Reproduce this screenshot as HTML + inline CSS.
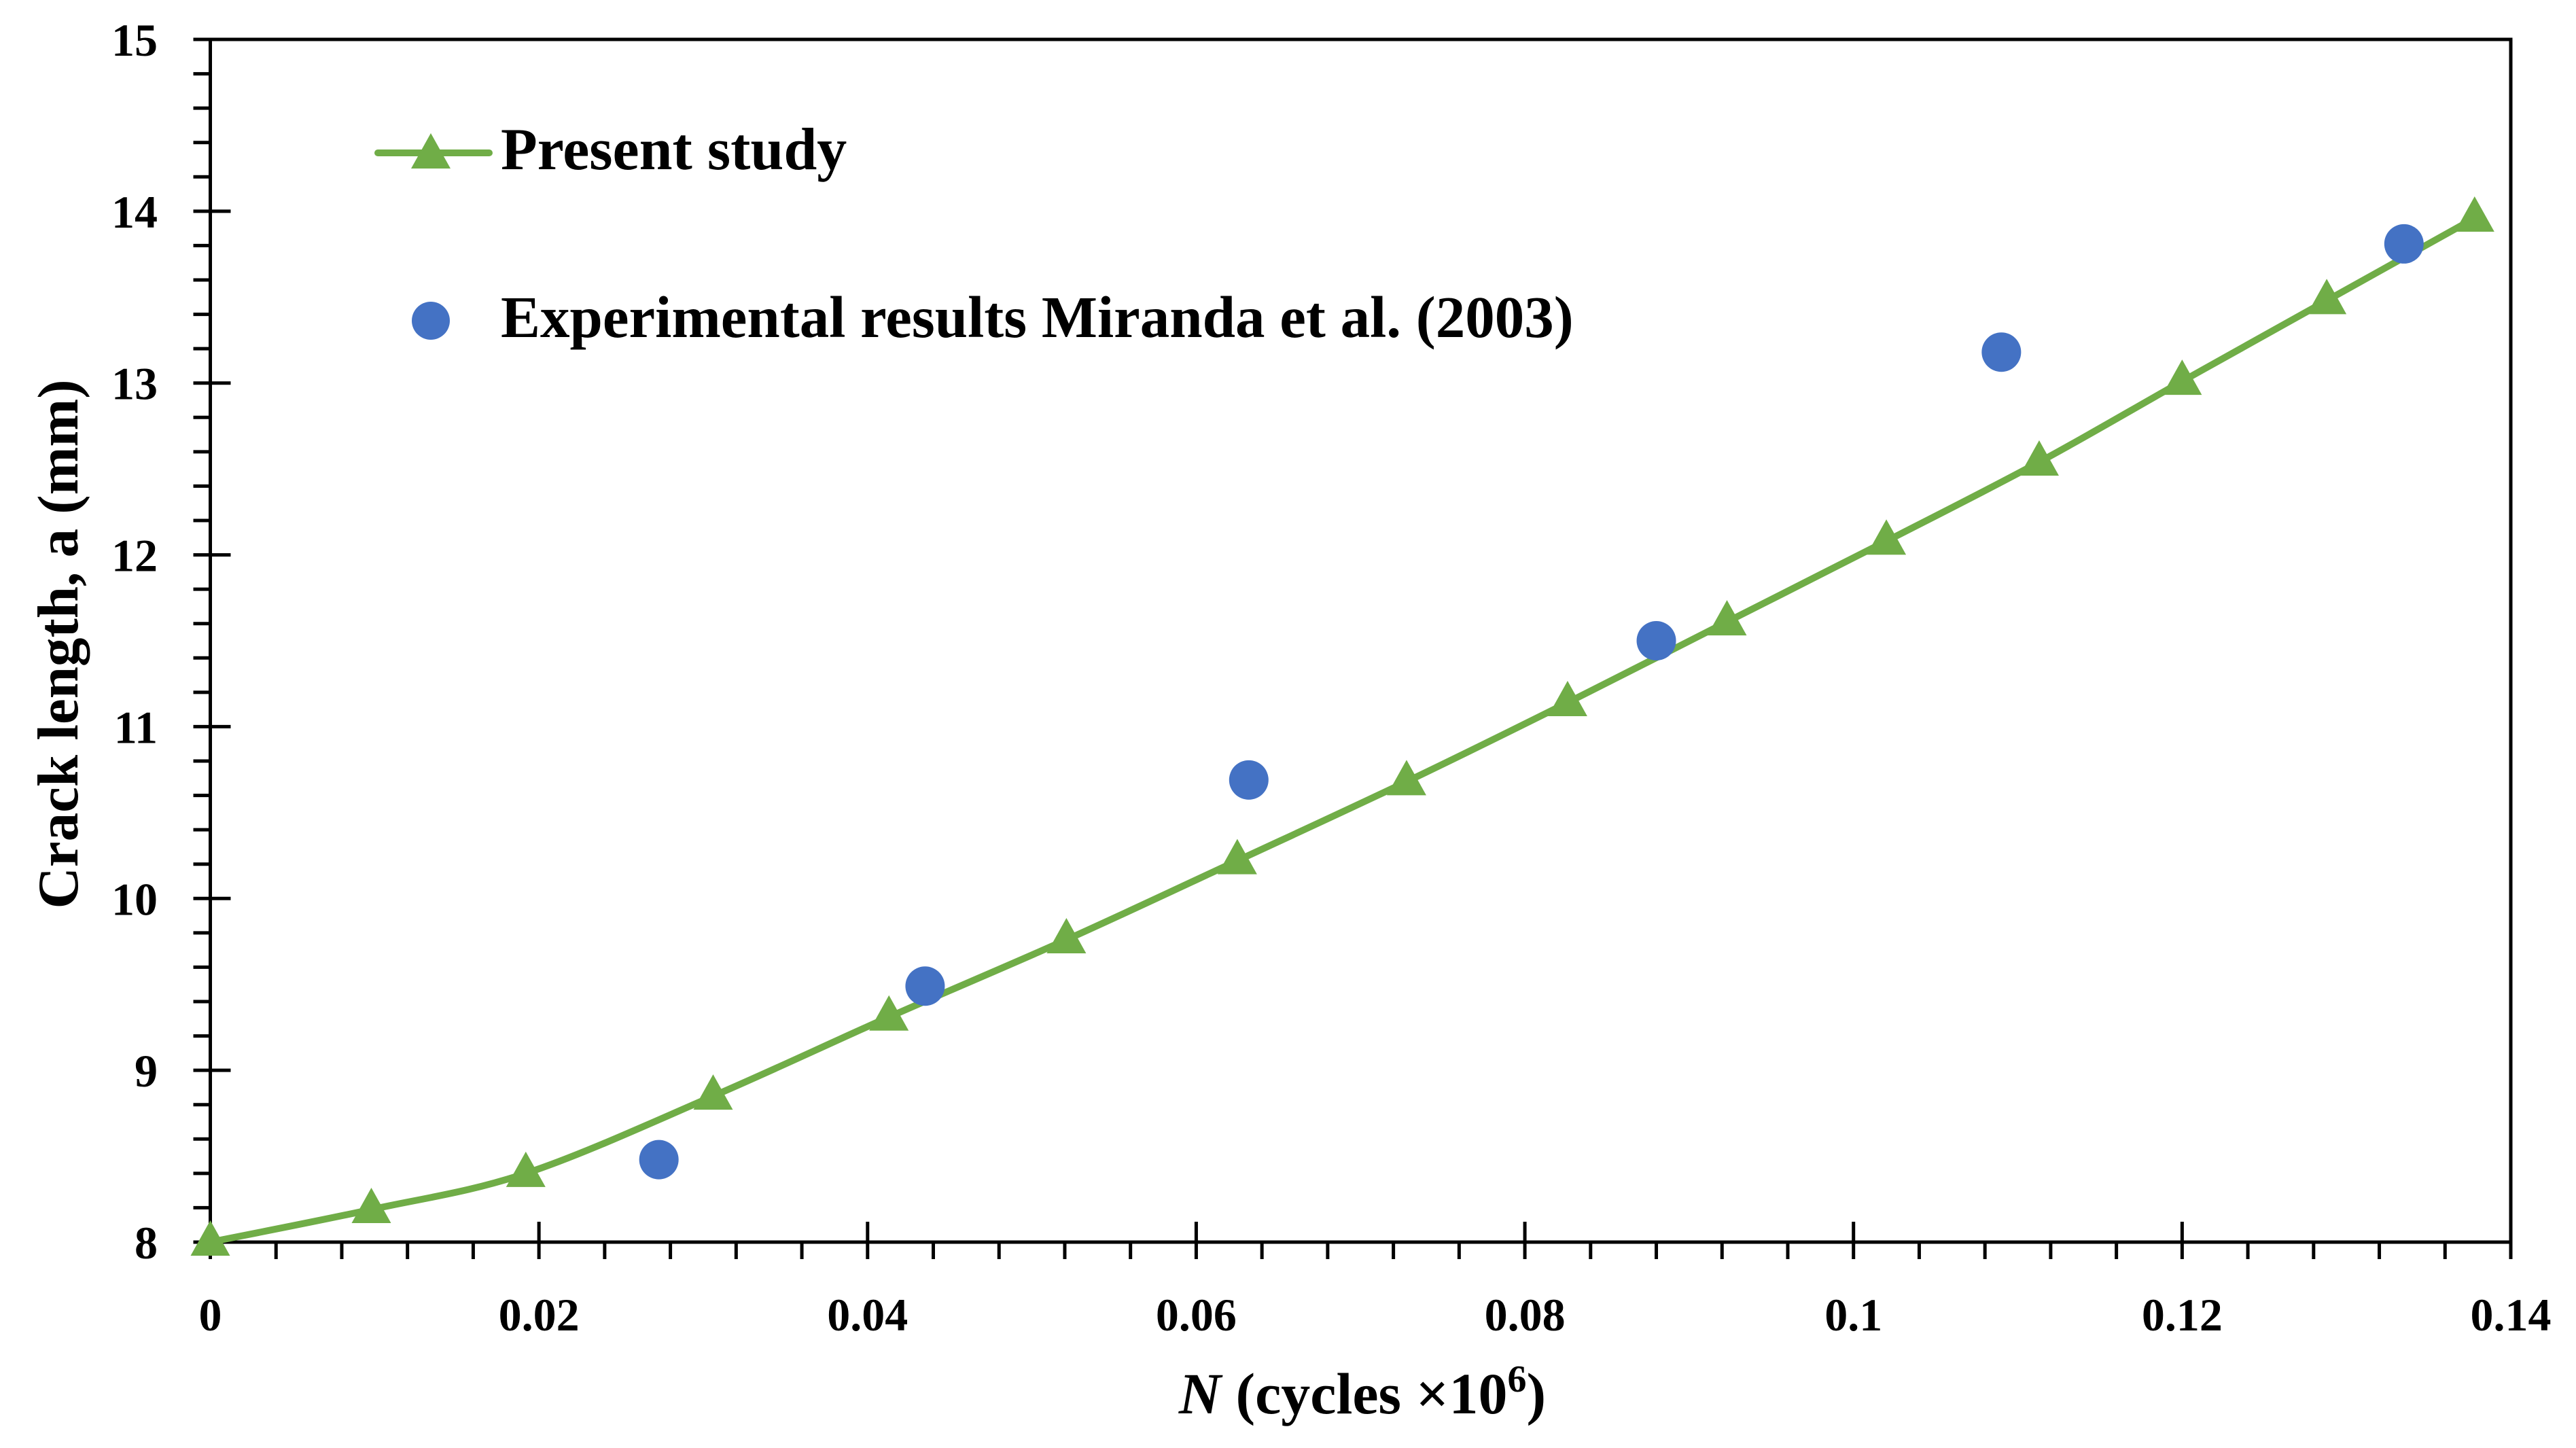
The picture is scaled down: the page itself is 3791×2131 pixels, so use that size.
<!DOCTYPE html>
<html><head><meta charset="utf-8"><style>
html,body{margin:0;padding:0;background:#fff;}
svg{display:block;font-family:"Liberation Serif",serif;font-weight:bold;}
</style></head><body>
<svg id="chart" width="3791" height="2131" viewBox="0 0 3791 2131" xmlns="http://www.w3.org/2000/svg">
<rect width="3791" height="2131" fill="#fff"/>
<g id="axes"></g>
<g id="series"></g>
<g>
  <line x1="556" y1="225" x2="720" y2="225" stroke="#70AD47" stroke-width="10" stroke-linecap="round"/>
  <polygon points="634,196 663,248 605,248" fill="#70AD47"/>
  <text x="737" y="249" font-size="88">Present study</text>
  <circle cx="634" cy="472" r="28" fill="#4472C4"/>
  <text x="737" y="496" font-size="87">Experimental results Miranda et al. (2003)</text>
</g>
<text x="2005" y="2080" font-size="86" text-anchor="middle"><tspan font-style="italic">N</tspan> (cycles ×10<tspan font-size="56" dy="-32">6</tspan><tspan dy="32">)</tspan></text>
<text transform="translate(114,948) rotate(-90)" font-size="85" text-anchor="middle">Crack length, a (mm)</text>
</svg>
<script>
const xTicks=[0,0.02,0.04,0.06,0.08,0.1,0.12,0.14];
const xTickLabels=["0","0.02","0.04","0.06","0.08","0.1","0.12","0.14"];
const yTicks=[8,9,10,11,12,13,14,15];
const yTickLabels=["8","9","10","11","12","13","14","15"];
const modelN=[0,0.0098,0.0192,0.0306,0.0413,0.0521,0.0625,0.0728,0.0826,0.0923,0.102,0.1113,0.120,0.1288,0.1378];
const modelA=[8,8.19,8.40,8.85,9.31,9.76,10.22,10.68,11.14,11.61,12.08,12.54,13.01,13.48,13.96];
const expN=[0.0273,0.0435,0.0632,0.088,0.109,0.1335];
const expA=[8.48,9.49,10.69,11.50,13.18,13.81];

const L=309.5,R=3695,T=58,B=1828;
const sx=v=>L+(v-0)/(0.14-0)*(R-L);
const sy=v=>B-(v-8)/(15-8)*(B-T);
const NS="http://www.w3.org/2000/svg";
function mk(tag,attrs,parent){const e=document.createElementNS(NS,tag);for(const k in attrs)e.setAttribute(k,attrs[k]);parent.appendChild(e);return e;}
const ax=document.getElementById('axes');
let fr=mk('rect',{x:L,y:T,width:R-L,height:B-T,fill:'none',stroke:'#000','stroke-width':5},ax);


for(let i=0;i<=35;i++){
  const v=i*0.004;const x=sx(v);
  if(i%5===0){
    const t=mk('line',{x1:x,y1:B-30,x2:x,y2:B+25,stroke:'#000','stroke-width':5},ax);
    
    
  } else {
    const t=mk('line',{x1:x,y1:B,x2:x,y2:B+25,stroke:'#000','stroke-width':5},ax);
    
    
  }
}
xTicks.forEach((v,i)=>{
  const t=mk('text',{x:sx(v),y:1958,'font-size':68,'text-anchor':'middle'},ax);
  t.textContent=xTickLabels[i];
  
  
});
for(let i=0;i<=35;i++){
  const v=8+i*0.2;const y=sy(v);
  if(i%5===0){
    const t=mk('line',{x1:L-25,y1:y,x2:L+30,y2:y,stroke:'#000','stroke-width':5},ax);
    
    
  } else {
    const t=mk('line',{x1:L-25,y1:y,x2:L,y2:y,stroke:'#000','stroke-width':5},ax);
    
    
  }
}
yTicks.forEach((v,i)=>{
  const t=mk('text',{x:232,y:sy(v)+24,'font-size':68,'text-anchor':'end'},ax);
  t.textContent=yTickLabels[i];
  
  
});
const sg=document.getElementById('series');
const pts=modelN.map((n,i)=>[sx(n),sy(modelA[i])]);
let d='M'+pts[0][0]+','+pts[0][1];
for(let i=0;i<pts.length-1;i++){
  const p0=pts[Math.max(0,i-1)],p1=pts[i],p2=pts[i+1],p3=pts[Math.min(pts.length-1,i+2)];
  const c1=[p1[0]+(p2[0]-p0[0])/6,p1[1]+(p2[1]-p0[1])/6];
  const c2=[p2[0]-(p3[0]-p1[0])/6,p2[1]-(p3[1]-p1[1])/6];
  d+=' C'+c1[0]+','+c1[1]+' '+c2[0]+','+c2[1]+' '+p2[0]+','+p2[1];
}
const line=mk('path',{d:d,fill:'none',stroke:'#70AD47','stroke-width':10,'stroke-linejoin':'round'},sg);


pts.forEach(p=>{
  const tri=mk('polygon',{points:`${p[0]},${p[1]-32} ${p[0]+29},${p[1]+20} ${p[0]-29},${p[1]+20}`,fill:'#70AD47'},sg);
  
  
});
expN.forEach((n,i)=>{
  const c=mk('circle',{cx:sx(n),cy:sy(expA[i]),r:29,fill:'#4472C4'},sg);
  
  
});
</script>
</body></html>
